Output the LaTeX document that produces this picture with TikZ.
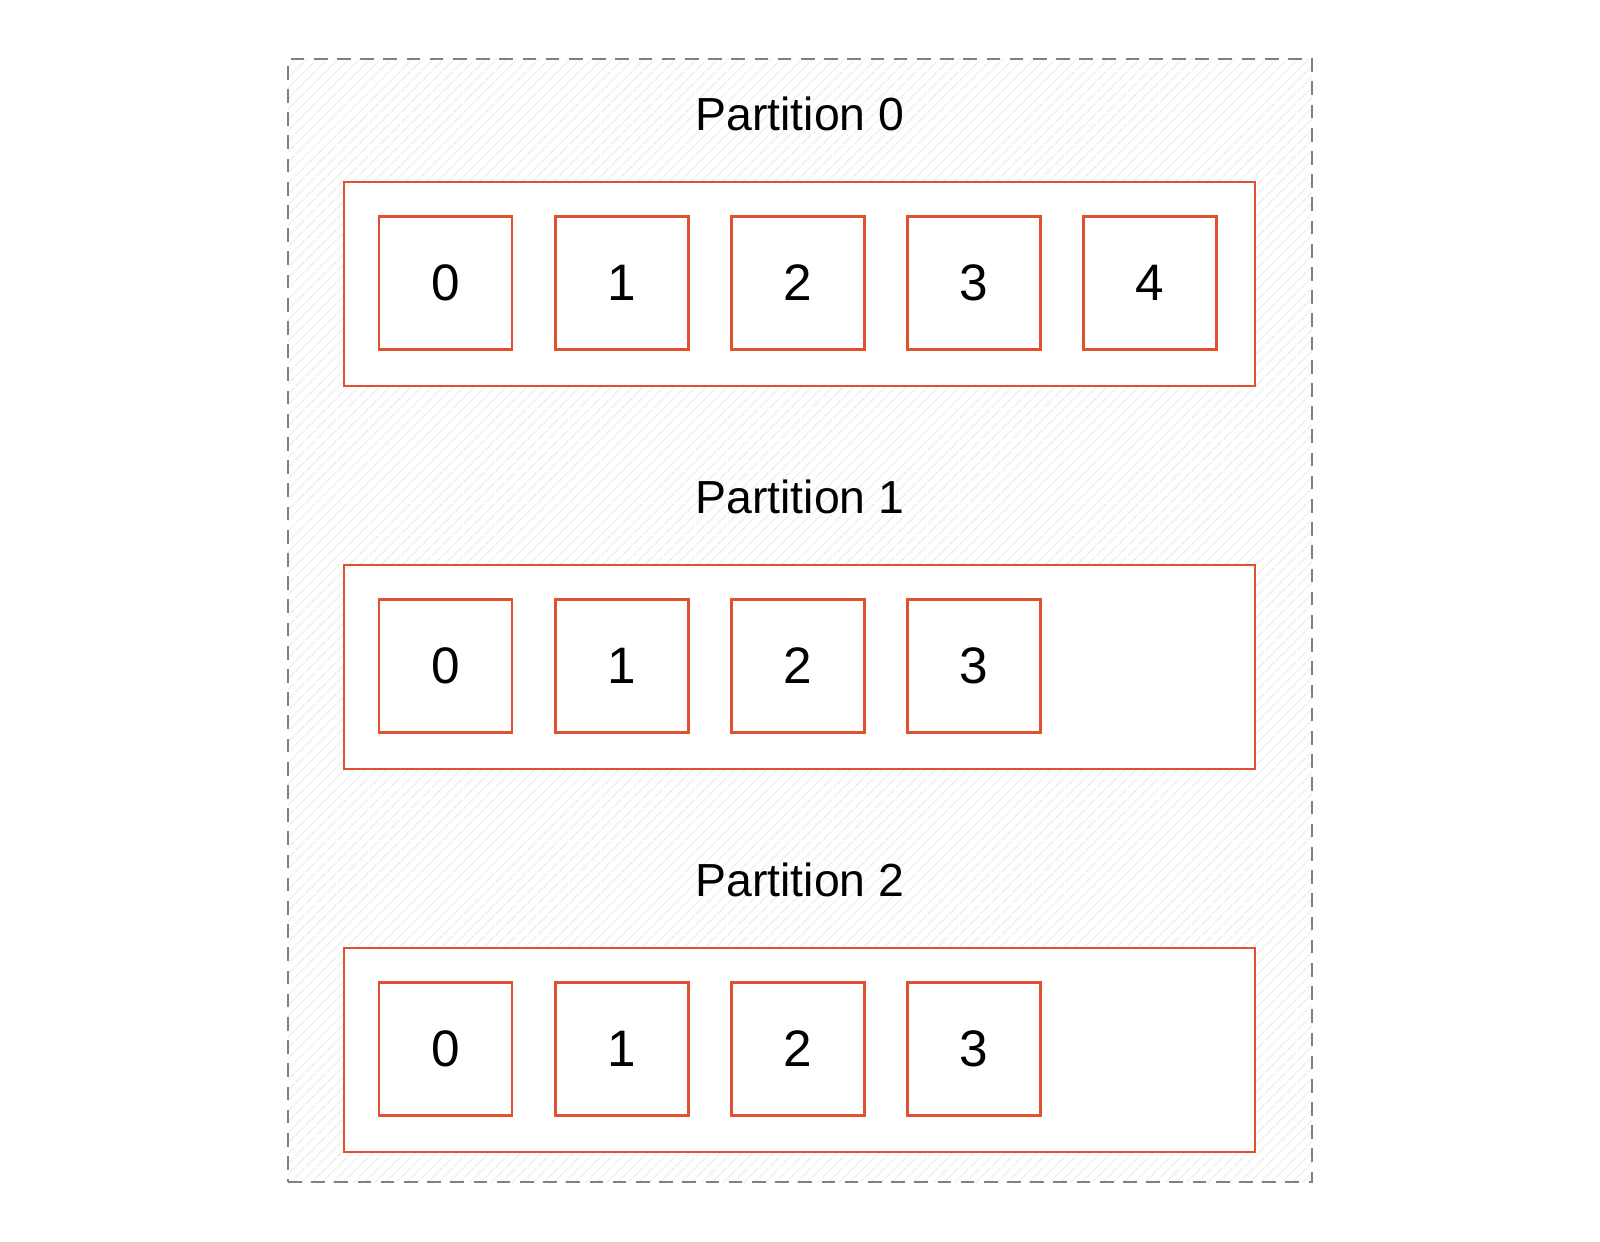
\documentclass[tikz,border=0pt]{standalone}
\usepackage{fontspec}
\setmainfont{Liberation Sans}
\usepackage{xcolor}
\usepackage{tikz}
\usetikzlibrary{chains, positioning, patterns}

\definecolor{sketch}{HTML}{E0522F}
\definecolor{dashgray}{HTML}{808080}

\begin{document}
\begin{tikzpicture}[
    node distance = 4.03mm,
    group/.style = {
        draw=dashgray, line width=0.8pt, dash pattern=on 3.9pt off 2.7pt,
        pattern=north east lines, pattern color=black!6,
        minimum width=10.24cm, minimum height=11.23cm, inner sep=0pt
    },
    part/.style = {
        draw=sketch, line width=0.65pt, fill=white,
        minimum width=9.11cm, minimum height=2.04cm, inner sep=0pt
    },
    title/.style = {font=\fontsize{13.2pt}{15pt}\selectfont, inner sep=0pt},
    cell/.style = {
        draw=sketch, line width=0.8pt, fill=white, minimum size=1.33cm,
        inner sep=0pt, font=\fontsize{14.6pt}{17pt}\selectfont, on chain
    }
  ]
    \useasboundingbox (0,0) rectangle (16,-12.41);
    \node[group] (grp) at (8.0,-6.205) {};  % 外框(虚线)

    \node[title] (title0) at (8.0,-1.135) {Partition 0};
    \node[part] (part0) at (7.995,-2.84) {};
    \begin{scope}[start chain = going right]
        \node[cell] (p0c0) at (4.455,-2.83) {0};
        \node[cell] (p0c1) {1};
        \node[cell] (p0c2) {2};
        \node[cell] (p0c3) {3};
        \node[cell] (p0c4) {4};  % 最后一个
    \end{scope}

    \node[title] (title1) at (8.0,-4.965) {Partition 1};
    \node[part] (part1) at (7.995,-6.67) {};
    \begin{scope}[start chain = going right]
        \node[cell] (p1c0) at (4.455,-6.66) {0};
        \node[cell] (p1c1) {1};
        \node[cell] (p1c2) {2};
        \node[cell] (p1c3) {3};
    \end{scope}

    \node[title] (title2) at (8.0,-8.795) {Partition 2};
    \node[part] (part2) at (7.995,-10.5) {};
    \begin{scope}[start chain = going right]
        \node[cell] (p2c0) at (4.455,-10.49) {0};
        \node[cell] (p2c1) {1};
        \node[cell] (p2c2) {2};
        \node[cell] (p2c3) {3};
    \end{scope}
\end{tikzpicture}
\end{document}
